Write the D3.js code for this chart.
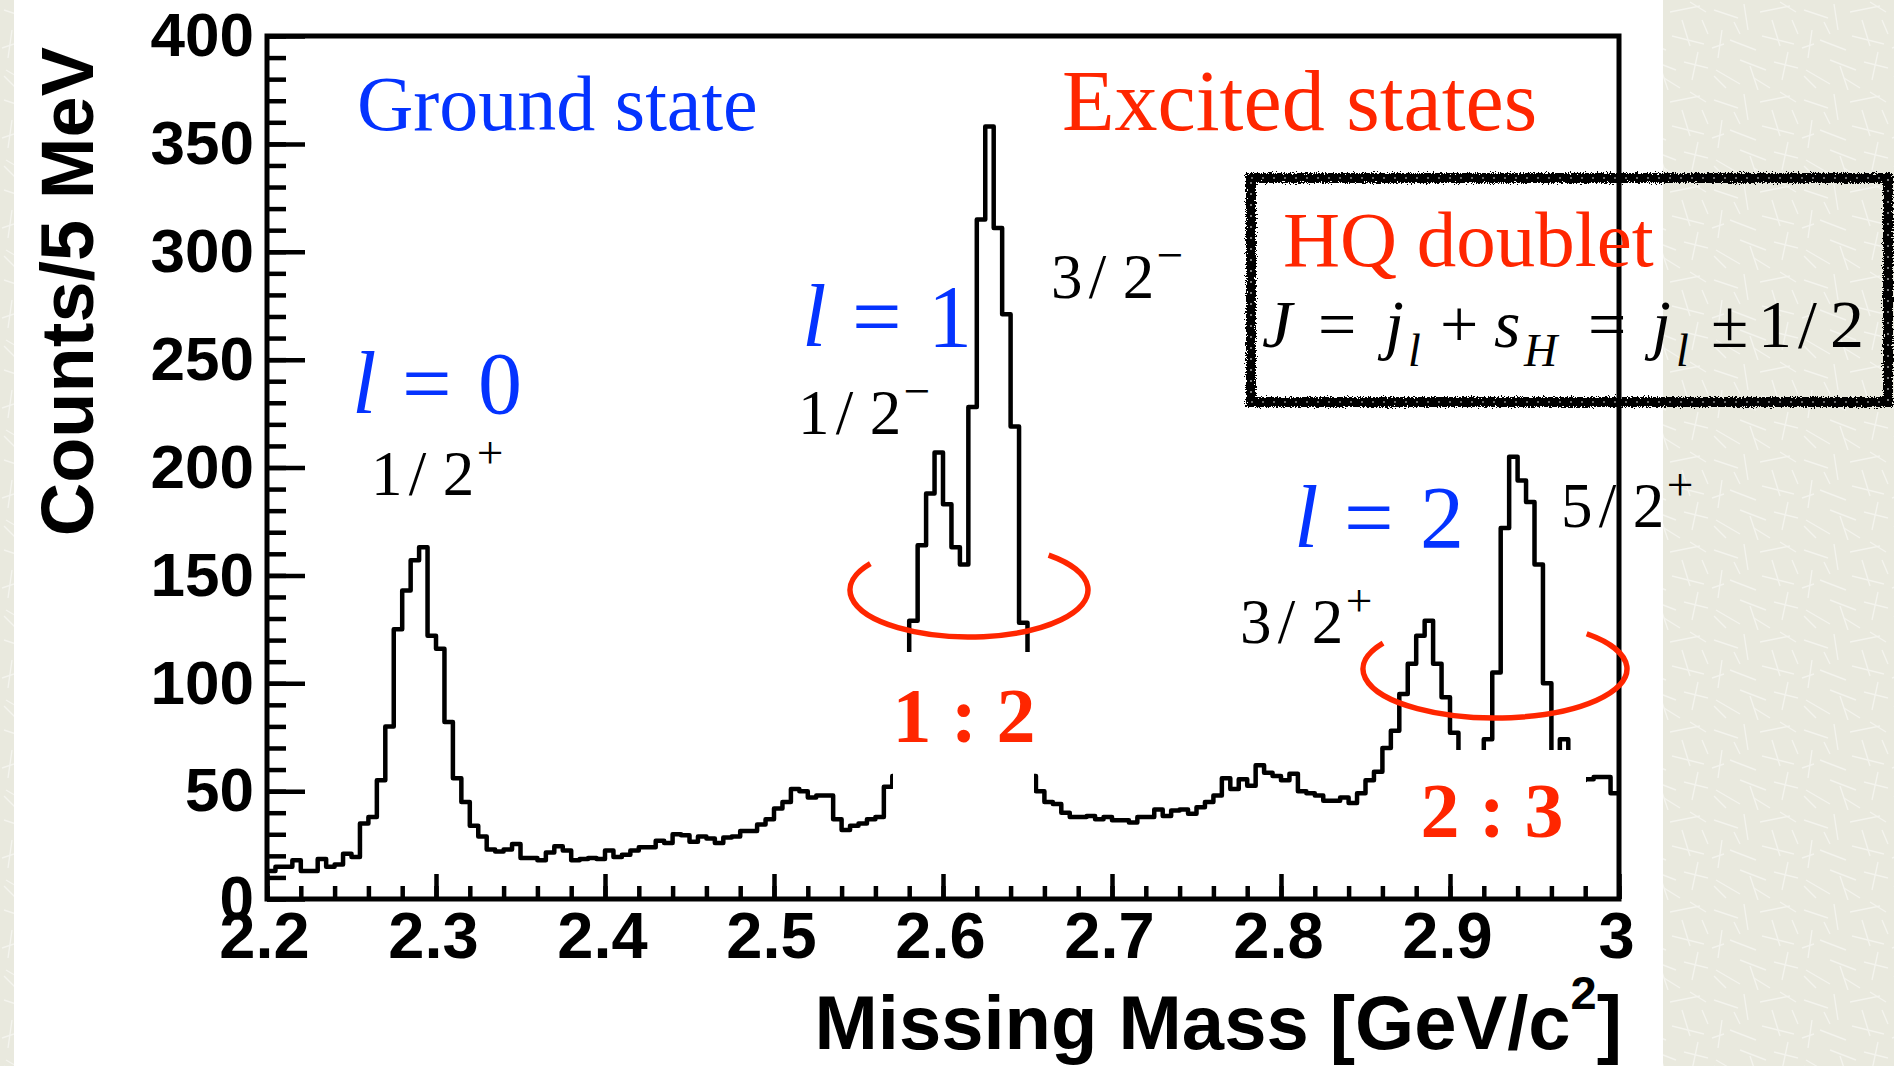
<!DOCTYPE html>
<html>
<head>
<meta charset="utf-8">
<script src="https://cdn.jsdelivr.net/npm/d3@7"></script>
<style>
html, body { margin: 0; padding: 0; background: #eaeadf; }
svg { display: block; }
</style>
</head>
<body>
<div id="chart"></div>
<script>
// missing mass spectrum, 5 MeV bins starting at 2.2 GeV
var binStart = 2.2;
var binWidth = 0.005;
var counts = [
  13, 15, 15, 18, 13, 13, 18.5, 15, 16, 21,
  19.5, 35, 38, 55, 80, 125, 143, 157, 163, 122,
  116, 82, 56, 45, 34, 29, 23, 22, 23, 25.5,
  19, 19, 18, 21.5, 24.5, 22.5, 18, 18.5, 19, 18.5,
  22.5, 19.5, 20.5, 22.5, 24, 24, 27, 26, 30, 29.5,
  26.5, 29, 28, 26, 28.5, 29, 31.5, 31.5, 34.5, 37,
  42, 45, 51, 50, 47, 48, 48, 37, 32, 34,
  35, 37, 38, 52, 57, 85, 129, 164, 188, 207,
  183, 163, 155, 228, 315, 358, 311, 271, 219, 128,
  57, 50, 45, 44, 40, 38, 38, 38.5, 37, 38,
  36.5, 36.5, 35.5, 38, 38, 41.5, 38.5, 41, 41.5, 39.5,
  42.5, 45, 48, 56, 51, 55.5, 52.5, 62, 58.5, 57,
  55, 58, 50, 49, 48, 45.5, 45.5, 47, 44.5, 49,
  55, 59, 70, 78, 95, 109, 122, 129, 109, 93.5,
  77, 62, 56, 60, 74, 105, 172, 205, 194, 184,
  155, 100, 62, 74, 64, 55, 55.5, 56.5, 56.5, 49
];

var xTickValues = [2.2, 2.3, 2.4, 2.5, 2.6, 2.7, 2.8, 2.9, 3.0];
var xTickLabels = ["2.2", "2.3", "2.4", "2.5", "2.6", "2.7", "2.8", "2.9", "3"];
var yTickValues = [0, 50, 100, 150, 200, 250, 300, 350, 400];
var yTickLabels = ["0", "50", "100", "150", "200", "250", "300", "350", "400"];

var waveLabels = ["0", "1", "2"];
var spinLabels = ["1/2+", "1/2-", "3/2-", "3/2+", "5/2+"];
var ratioLabels = ["1 : 2", "2 : 3"];

var W = 1894, H = 1066;
var serif = "'Liberation Serif', 'Times New Roman', serif";
var sans = "'Liberation Sans', Arial, sans-serif";
var blue = "#0433ff", red = "#ff2600";

var svg = d3.select("#chart").append("svg")
    .attr("width", W).attr("height", H);

var defs = svg.append("defs");

// slide paper texture
var pat = defs.append("pattern").attr("id", "paper")
    .attr("patternUnits", "userSpaceOnUse")
    .attr("width", 90).attr("height", 90);
pat.append("rect").attr("width", 90).attr("height", 90).attr("fill", "#e9e9de");
var fibres = [[4,10,28,18],[34,4,38,30],[50,12,80,6],[62,20,70,46],[12,30,8,58],
  [20,40,46,50],[52,36,84,44],[78,52,72,80],[30,60,56,70],[6,70,30,84],
  [44,78,60,88],[64,62,88,68],[2,48,14,44],[82,20,88,34],[24,22,30,34],
  [40,66,48,90],[70,2,86,12],[16,88,4,76]];
pat.selectAll("line").data(fibres).enter().append("line")
    .attr("x1", function(d) { return d[0]; }).attr("y1", function(d) { return d[1]; })
    .attr("x2", function(d) { return d[2]; }).attr("y2", function(d) { return d[3]; })
    .attr("stroke", "#f4f4ee").attr("stroke-width", 1.4);

var rough = defs.append("filter").attr("id", "rough")
    .attr("x", "-5%").attr("y", "-5%").attr("width", "110%").attr("height", "110%");
rough.append("feTurbulence").attr("type", "fractalNoise")
    .attr("baseFrequency", 0.7).attr("numOctaves", 2).attr("seed", 4).attr("result", "n");
rough.append("feDisplacementMap").attr("in", "SourceGraphic").attr("in2", "n")
    .attr("scale", 7).attr("xChannelSelector", "R").attr("yChannelSelector", "G");

svg.append("rect").attr("width", W).attr("height", H).attr("fill", "url(#paper)");
svg.append("rect").attr("x", 14).attr("y", 0).attr("width", 1649).attr("height", H)
    .attr("fill", "#fff");

// frame
var x0 = 267, x1 = 1619, y0 = 36, y1 = 899;

var x = d3.scaleLinear().domain([2.2, 3.0]).range([x0, x1]);
var y = d3.scaleLinear().domain([0, 400]).range([y1, y0]);

defs.append("clipPath").attr("id", "frame")
    .append("rect").attr("x", x0).attr("y", y0).attr("width", x1 - x0).attr("height", y1 - y0);

// minor + major ticks, pointing inwards
var xMinor = d3.range(0, 41).map(function(i) { return 2.2 + i * 0.02; });
var yMinor = d3.range(0, 41).map(function(i) { return i * 10; });

var gx = svg.append("g").attr("transform", "translate(0," + y1 + ")");
gx.append("g").call(d3.axisBottom(x).tickValues(xMinor).tickSize(-13).tickFormat(""));
gx.append("g").attr("class", "xmajor")
    .call(d3.axisBottom(x).tickValues(xTickValues).tickSize(-25).tickPadding(13)
    .tickFormat(function(d, i) { return xTickLabels[i]; }));

var gy = svg.append("g").attr("transform", "translate(" + x0 + ",0)");
gy.append("g").call(d3.axisLeft(y).tickValues(yMinor).tickSize(-19).tickFormat(""));
gy.append("g").call(d3.axisLeft(y).tickValues(yTickValues).tickSize(-38).tickPadding(13)
    .tickFormat(function(d, i) { return yTickLabels[i]; }));

svg.selectAll(".domain").remove();
svg.selectAll(".tick line").attr("stroke", "#000").attr("stroke-width", 4.5);
svg.selectAll(".tick text")
    .attr("font-family", sans).attr("font-weight", "bold")
    .attr("font-size", 62).attr("fill", "#000");
svg.selectAll(".xmajor .tick text").attr("font-size", 65).attr("dx", -3);

// histogram
var pts = counts.map(function(c, i) { return { m: binStart + i * binWidth, c: c }; });
pts.push({ m: binStart + counts.length * binWidth, c: counts[counts.length - 1] });

var line = d3.line()
    .x(function(d) { return x(d.m); })
    .y(function(d) { return y(d.c); })
    .curve(d3.curveStepAfter);

svg.append("path").datum(pts)
    .attr("clip-path", "url(#frame)")
    .attr("d", line)
    .attr("fill", "none").attr("stroke", "#000")
    .attr("stroke-width", 4.5).attr("stroke-linejoin", "round");

// white patches behind the ratio labels (they hide part of the histogram)
svg.append("rect").attr("x", 893).attr("y", 652).attr("width", 141).attr("height", 216).attr("fill", "#fff");
svg.append("rect").attr("x", 1410).attr("y", 750).attr("width", 176).attr("height", 118).attr("fill", "#fff");

svg.append("rect")
    .attr("x", x0).attr("y", y0).attr("width", x1 - x0).attr("height", y1 - y0)
    .attr("fill", "none").attr("stroke", "#000").attr("stroke-width", 5);

// axis titles
svg.append("text")
    .attr("x", 1622).attr("y", 1049).attr("text-anchor", "end")
    .attr("font-family", sans).attr("font-weight", "bold").attr("font-size", 76)
    .call(function(t) {
      t.append("tspan").text("Missing Mass [GeV/c");
      t.append("tspan").attr("dy", -40).attr("font-size", 47).text("2");
      t.append("tspan").attr("dy", 40).text("]");
    });

svg.append("text")
    .attr("transform", "translate(93,47) rotate(-90)")
    .attr("text-anchor", "end")
    .attr("font-family", sans).attr("font-weight", "bold").attr("font-size", 74)
    .text("Counts/5 MeV");

// open ellipses around the doublets
function openEllipse(cx, cy, rx, ry, a0, a1) {
  var r = Math.PI / 180;
  var sx = cx + rx * Math.cos(a0 * r), sy = cy + ry * Math.sin(a0 * r);
  var ex = cx + rx * Math.cos(a1 * r), ey = cy + ry * Math.sin(a1 * r);
  var large = (a1 - a0) > 180 ? 1 : 0;
  svg.append("path")
      .attr("d", "M" + sx + "," + sy + " A" + rx + "," + ry + " 0 " + large + " 1 " + ex + "," + ey)
      .attr("fill", "none").attr("stroke", red).attr("stroke-width", 5.5);
}
openEllipse(969, 590, 119, 47, -48, 214);
openEllipse(1495, 669, 132, 49, -46, 212);

// headings
svg.append("text").attr("x", 357).attr("y", 130)
    .attr("font-family", serif).attr("font-size", 78).attr("fill", blue)
    .text("Ground state");
svg.append("text").attr("x", 1062).attr("y", 130)
    .attr("font-family", serif).attr("font-size", 86).attr("fill", red)
    .text("Excited states");

// l = n labels
function waveLabel(xs, yb, n) {
  var t = svg.append("text").attr("y", yb)
      .attr("font-family", serif).attr("font-size", 88).attr("fill", blue);
  t.append("tspan").attr("x", xs).attr("font-style", "italic").text("l");
  t.append("tspan").attr("x", xs + 50).text("=");
  t.append("tspan").attr("x", xs + 126).text(n);
}
var wavePos = [[352, 413], [802, 346], [1294, 547]];
waveLabels.forEach(function(n, i) { waveLabel(wavePos[i][0], wavePos[i][1], n); });

// J^P labels
function spinLabel(xs, yb, s, size) {
  var t = svg.append("text").attr("y", yb)
      .attr("font-family", serif).attr("font-size", size).attr("fill", "#000");
  t.append("tspan").attr("x", xs).text(s[0]);
  t.append("tspan").attr("x", xs + 0.6 * size).text("/");
  t.append("tspan").attr("x", xs + 1.14 * size).text(s[2]);
  t.append("tspan").attr("x", xs + 1.68 * size).attr("dy", -0.43 * size)
      .attr("font-size", 0.75 * size).text(s[3] === "+" ? "+" : "\u2212");
}
var spinPos = [[371, 495], [798, 434], [1051, 298], [1240, 643], [1561, 527]];
spinLabels.forEach(function(s, i) { spinLabel(spinPos[i][0], spinPos[i][1], s, 63); });

// ratios
var ratioPos = [[964, 742], [1492, 837]];
ratioLabels.forEach(function(s, i) {
  svg.append("text").attr("x", ratioPos[i][0]).attr("y", ratioPos[i][1])
      .attr("text-anchor", "middle").attr("xml:space", "preserve")
      .attr("font-family", serif).attr("font-weight", "bold").attr("font-size", 78)
      .attr("fill", red).text(s);
});

// HQ doublet box, hand-drawn look
svg.append("rect").attr("x", 1251).attr("y", 178).attr("width", 637).attr("height", 224)
    .attr("fill", "none").attr("stroke", "#000").attr("stroke-width", 10)
    .attr("filter", "url(#rough)");
svg.append("rect").attr("x", 1251).attr("y", 178).attr("width", 637).attr("height", 224)
    .attr("fill", "none").attr("stroke", "#fff").attr("stroke-width", 1.2)
    .attr("stroke-dasharray", "2 9").attr("opacity", 0.8);

svg.append("text").attr("x", 1283).attr("y", 266)
    .attr("font-family", serif).attr("font-size", 79).attr("fill", red)
    .text("HQ doublet");

var formula = [
  { t: "J", x: 1262, it: true },
  { t: "=", x: 1318 },
  { t: "j", x: 1385, it: true },
  { t: "l", x: 1408, it: true, sub: true },
  { t: "+", x: 1440 },
  { t: "s", x: 1494, it: true },
  { t: "H", x: 1524, it: true, sub: true },
  { t: "=", x: 1588 },
  { t: "j", x: 1652, it: true },
  { t: "l", x: 1676, it: true, sub: true },
  { t: "\u00b1", x: 1711 },
  { t: "1", x: 1758 },
  { t: "/", x: 1798 },
  { t: "2", x: 1830 }
];
svg.append("g").selectAll("text").data(formula).enter().append("text")
    .attr("x", function(d) { return d.x; })
    .attr("y", function(d) { return d.sub ? 366 : 347; })
    .attr("font-family", serif)
    .attr("font-size", function(d) { return d.sub ? 46 : 68; })
    .attr("font-style", function(d) { return d.it ? "italic" : "normal"; })
    .attr("fill", "#000")
    .text(function(d) { return d.t; });
</script>
</body>
</html>
